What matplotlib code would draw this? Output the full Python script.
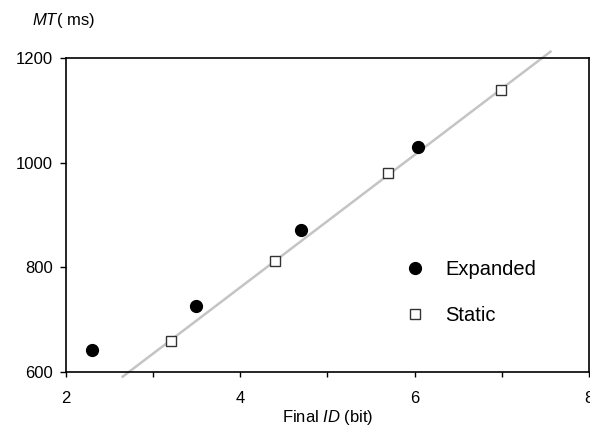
import numpy as np
import matplotlib.pyplot as plt
from matplotlib.ticker import MultipleLocator

plt.rcParams['font.family'] = ['Liberation Sans', 'DejaVu Sans']
plt.rcParams['mathtext.fontset'] = 'custom'
plt.rcParams['mathtext.rm'] = 'Liberation Sans'
plt.rcParams['mathtext.it'] = 'Liberation Sans:italic'

# data
expanded_id = [2.3, 3.49, 4.7, 6.04]
expanded_mt = [641, 727, 872, 1030]
static_id = [3.2, 4.4, 5.7, 6.99]
static_mt = [660, 812, 980, 1139]
fit_range = [2.65, 7.56]  # extent of the drawn regression line (bit)

# regression line through the static condition
slope, intercept = np.polyfit(static_id, static_mt, 1)
fit_x = np.array(fit_range)

fig = plt.figure(figsize=(5.9, 4.26), dpi=100)
ax = fig.add_axes([0.112, 0.127, 0.886, 0.736])

# the line in the original runs a little past the frame
ax.plot(fit_x, slope * fit_x + intercept, color='#c4c4c4', lw=1.8,
        zorder=1, clip_on=False)
ax.plot(expanded_id, expanded_mt, 'o', color='black', ms=8.5, ls='none',
        label='Expanded', zorder=3)
ax.plot(static_id, static_mt, 's', mfc='white', mec='#333333', mew=1.0,
        ms=7.5, ls='none', label='Static', zorder=3)

ax.set_xlim(2, 8)
ax.set_ylim(600, 1200)
ax.xaxis.set_major_locator(MultipleLocator(2))
ax.xaxis.set_minor_locator(MultipleLocator(1))
ax.yaxis.set_major_locator(MultipleLocator(200))
ax.tick_params(which='both', direction='out', width=1, labelsize=12)
ax.tick_params(axis='x', which='both', length=3.5, pad=10)
ax.tick_params(axis='y', length=4.5, pad=5)
for s in ax.spines.values():
    s.set_linewidth(1.2)

ax.set_xlabel('Final $ID$ (bit)', fontsize=12, labelpad=2)
fig.text(0.054, 0.953, '$MT$( ms)', fontsize=12, va='center', ha='left')

ax.legend(loc='center left', bbox_to_anchor=(0.644, 0.253), frameon=False,
          fontsize=14.5, handletextpad=0.9, labelspacing=1.3, borderpad=0,
          borderaxespad=0, handlelength=1.2)

fig.savefig('out.png', dpi=100)
